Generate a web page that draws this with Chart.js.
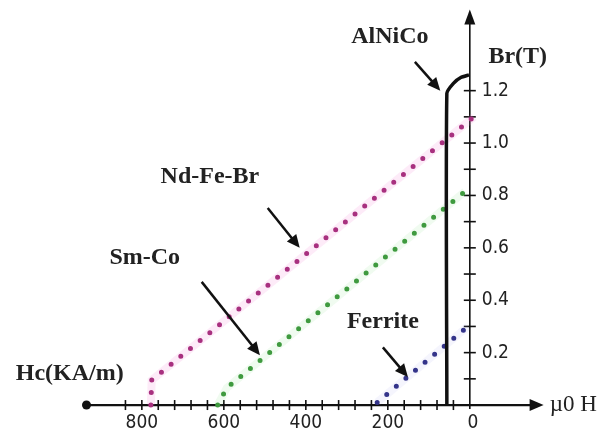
<!DOCTYPE html>
<html>
<head>
<meta charset="utf-8">
<script src="https://cdn.jsdelivr.net/npm/chart.js@4.4.1/dist/chart.umd.min.js"></script>
<style>
  body { margin: 0; background: #fff; }
  .chartdiv { width: 601px; height: 437px; }
</style>
</head>
<body>
<div class="chartdiv"><canvas id="myChart"></canvas></div>
<script>
// demagnetisation lines, H in kA/m (plotted reversed), Br in T
const ndFeBrH = [778, 776, -10];
const ndFeBrB = [0.0, 0.095, 1.1];
const smCoH = [615, 593, 12];
const smCoB = [0.0, 0.065, 0.815];
const ferriteH = [226, 5];
const ferriteB = [0.01, 0.3];
const alnicoH = [56, 56, 40, 22, 2];
const alnicoB = [0.0, 1.19, 1.228, 1.25, 1.26];

// axis ticks
const xTicks = [840, 800, 760, 720, 680, 640, 600, 560, 520, 480, 440, 400, 360, 320, 280, 240, 200, 160, 120, 80, 40];
const xTickLabels = [800, 600, 400, 200, 0];
const yTicks = [0.1, 0.2, 0.3, 0.4, 0.5, 0.6, 0.7, 0.8, 0.9, 1.0, 1.1, 1.2];
const yTickLabels = [0.2, 0.4, 0.6, 0.8, 1.0, 1.2];

// callouts: text centre, arrow start, arrow tip (all in H / Br units)
const notes = [
  { text: "AlNiCo", at: [195, 1.405], from: [134, 1.31], to: [72, 1.2] },
  { text: "Nd-Fe-Br", at: [634, 0.87], from: [493, 0.752], to: [415, 0.6] },
  { text: "Sm-Co", at: [793, 0.561], from: [654, 0.47], to: [512, 0.19] },
  { text: "Ferrite", at: [212, 0.317], from: [212, 0.22], to: [151, 0.107] },
  { text: "Hc(KA/m)", at: [976, 0.118] },
  { text: "Br(T)", at: [-117, 1.328] },
];

const pts = (hs, bs) => hs.map((h, i) => ({ x: h, y: bs[i] }));

const dotted = (hs, bs, color) => ({
  data: pts(hs, bs),
  borderColor: color,
  borderWidth: 5,
  borderDash: [0, 12.5],
  borderCapStyle: "round",
  pointRadius: 0,
  tension: 0,
  order: 1,
});
const halo = (hs, bs, color) => ({
  data: pts(hs, bs),
  borderColor: color,
  borderWidth: 8,
  pointRadius: 0,
  tension: 0,
  order: 3,
});

function arrowHead(ctx, x1, y1, x2, y2, len, half) {
  const a = Math.atan2(y2 - y1, x2 - x1);
  ctx.beginPath();
  ctx.moveTo(x2, y2);
  ctx.lineTo(x2 - len * Math.cos(a) + half * Math.sin(a), y2 - len * Math.sin(a) - half * Math.cos(a));
  ctx.lineTo(x2 - len * Math.cos(a) - half * Math.sin(a), y2 - len * Math.sin(a) + half * Math.cos(a));
  ctx.closePath();
  ctx.fill();
}

const axesPlugin = {
  id: "axes",
  beforeDatasetsDraw(chart) {
    const { ctx, scales: { x, y } } = chart;
    const x0 = x.getPixelForValue(0);
    const y0 = y.getPixelForValue(0);
    ctx.save();
    ctx.strokeStyle = "#111";
    ctx.fillStyle = "#111";

    // horizontal axis with dot at the left and arrow at the right
    const xl = x.getPixelForValue(935);
    const xr = x.getPixelForValue(-180);
    ctx.lineWidth = 2.2;
    ctx.beginPath();
    ctx.moveTo(xl, y0);
    ctx.lineTo(xr - 8, y0);
    ctx.stroke();
    ctx.beginPath();
    ctx.arc(xl, y0, 4.5, 0, Math.PI * 2);
    ctx.fill();
    arrowHead(ctx, xl, y0, xr, y0, 14, 6);

    // vertical axis with arrow at the top
    const yt = y.getPixelForValue(1.51);
    ctx.lineWidth = 1.6;
    ctx.beginPath();
    ctx.moveTo(x0, y0 + 4);
    ctx.lineTo(x0, yt + 8);
    ctx.stroke();
    arrowHead(ctx, x0, y0, x0, yt, 15, 5.5);

    // tick marks
    ctx.lineWidth = 1.6;
    xTicks.forEach(v => {
      const px = x.getPixelForValue(v);
      ctx.beginPath();
      ctx.moveTo(px, y0 - 5);
      ctx.lineTo(px, y0 + 5);
      ctx.stroke();
    });
    yTicks.forEach(v => {
      const py = y.getPixelForValue(v);
      ctx.beginPath();
      ctx.moveTo(x0 - 6, py);
      ctx.lineTo(x0 + 6, py);
      ctx.stroke();
    });

    // tick labels
    ctx.fillStyle = "#222";
    ctx.font = "19px 'Liberation Sans Narrow', 'DejaVu Sans Condensed', sans-serif";
    ctx.textAlign = "center";
    ctx.textBaseline = "middle";
    xTickLabels.forEach(v => {
      ctx.fillText(String(v), x.getPixelForValue(v) + (v === 0 ? 3 : 0), y0 + 18);
    });
    ctx.textAlign = "left";
    yTickLabels.forEach(v => {
      ctx.fillText(v.toFixed(1), x0 + 12, y.getPixelForValue(v));
    });
    ctx.restore();
  },
  afterDatasetsDraw(chart) {
    const { ctx, scales: { x, y } } = chart;
    ctx.save();
    ctx.fillStyle = "#222";
    ctx.strokeStyle = "#111";
    ctx.textAlign = "center";
    ctx.textBaseline = "middle";
    ctx.font = "bold 24px 'Liberation Serif', serif";
    notes.forEach(n => {
      ctx.fillStyle = "#222";
      ctx.fillText(n.text, x.getPixelForValue(n.at[0]), y.getPixelForValue(n.at[1]));
      if (n.from) {
        const x1 = x.getPixelForValue(n.from[0]), y1 = y.getPixelForValue(n.from[1]);
        const x2 = x.getPixelForValue(n.to[0]), y2 = y.getPixelForValue(n.to[1]);
        const a = Math.atan2(y2 - y1, x2 - x1);
        ctx.lineWidth = 2.5;
        ctx.beginPath();
        ctx.moveTo(x1, y1);
        ctx.lineTo(x2 - 6 * Math.cos(a), y2 - 6 * Math.sin(a));
        ctx.stroke();
        ctx.fillStyle = "#111";
        arrowHead(ctx, x1, y1, x2, y2, 13, 6);
      }
    });
    // axis name on the right end of the H axis
    ctx.font = "23px 'Liberation Serif', serif";
    ctx.textAlign = "left";
    ctx.fillStyle = "#222";
    ctx.fillText("\u00b50 H", x.getPixelForValue(-195), y.getPixelForValue(0));
    ctx.restore();
  },
};

new Chart(document.getElementById("myChart"), {
  type: "line",
  data: {
    datasets: [
      {
        label: "AlNiCo",
        data: pts(alnicoH, alnicoB),
        borderColor: "#111",
        borderWidth: 3.5,
        borderJoinStyle: "round",
        pointRadius: 0,
        tension: 0.2,
        order: 0,
      },
      { label: "Nd-Fe-Br", ...dotted(ndFeBrH, ndFeBrB, "#a8307f") },
      { label: "Sm-Co", ...dotted(smCoH, smCoB, "#3f9a3f") },
      { label: "Ferrite", ...dotted(ferriteH, ferriteB, "#34348a") },
      { label: "Nd-Fe-Br halo", ...halo(ndFeBrH, ndFeBrB, "rgba(240,130,210,0.16)") },
      { label: "Sm-Co halo", ...halo(smCoH, smCoB, "rgba(130,225,130,0.12)") },
      { label: "Ferrite halo", ...halo(ferriteH, ferriteB, "rgba(160,160,235,0.1)") },
    ],
  },
  options: {
    responsive: true,
    maintainAspectRatio: false,
    animation: false,
    layout: { padding: 0 },
    plugins: { legend: { display: false }, tooltip: { enabled: false } },
    elements: { line: { fill: false } },
    scales: {
      x: { type: "linear", reverse: true, min: -320, max: 1146, display: false },
      y: { type: "linear", min: -0.122, max: 1.546, display: false },
    },
  },
  plugins: [axesPlugin],
});
</script>
</body>
</html>
